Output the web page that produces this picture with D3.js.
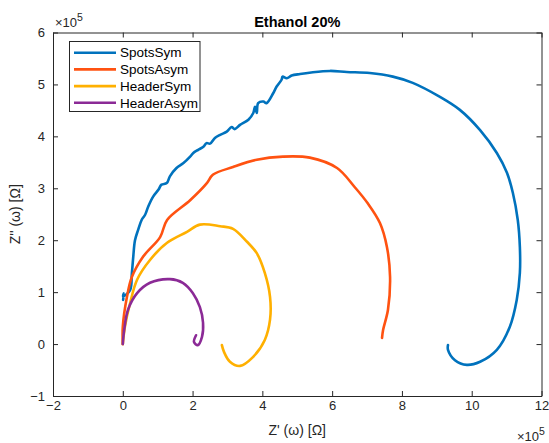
<!DOCTYPE html>
<html><head><meta charset="utf-8">
<script src="https://cdn.jsdelivr.net/npm/d3@7"></script>
<style>body{margin:0;background:#fff;} text{font-family:"Liberation Sans",Arial,sans-serif;}</style>
</head><body>
<svg id="chart" width="549" height="443"></svg>
<script>
// ---- data (units of 1e5 Ohm) ----
const seriesNames = ["SpotsSym", "SpotsAsym", "HeaderSym", "HeaderAsym"];
const seriesColors = ["#0072BD", "#FF5211", "#FFB000", "#8B2A96"];
const xTicks = [-2, 0, 2, 4, 6, 8, 10, 12];
const yTicks = [-1, 0, 1, 2, 3, 4, 5, 6];

const spotsSym = [
  [0.01,0.85],[0.03,0.98],[0.01,0.92],[0.21,1.04],[0.26,1.36],[0.30,1.68],[0.35,2.00],[0.44,2.20],
  [0.54,2.39],[0.64,2.49],[0.73,2.65],[0.87,2.84],[1.02,2.97],[1.11,3.07],[1.26,3.10],
  [1.35,3.23],[1.54,3.39],[1.73,3.48],[1.93,3.61],[2.02,3.68],[2.16,3.74],[2.31,3.80],
  [2.40,3.87],[2.50,3.86],[2.64,3.97],[2.79,4.03],[2.98,4.09],[3.12,4.18],[3.21,4.14],
  [3.36,4.22],[3.60,4.32],[3.74,4.45],[3.79,4.57],[3.84,4.45],[3.88,4.64],[4.03,4.67],
  [4.12,4.64],[4.31,4.83],[4.41,4.96],[4.55,5.09],[4.58,5.15],[4.70,5.12],[4.84,5.17],
  [5.08,5.20],[5.40,5.23],[5.94,5.26],[6.42,5.24],[7.08,5.22],[7.74,5.15],[8.31,5.03],
  [9.09,4.76],[9.66,4.51],[10.24,4.12],[10.72,3.68],[11.01,3.30],[11.18,2.91],[11.32,2.39],
  [11.38,1.87],[11.38,1.37],[11.29,0.85],[11.09,0.33],[10.72,-0.11],[10.24,-0.34],
  [9.86,-0.40],[9.52,-0.31],[9.32,-0.11],[9.32,-0.02]
];
const spotsAsym = [
  [0.00,0.00],[0.00,0.33],[0.12,0.91],[0.26,1.29],[0.58,1.68],[1.07,2.06],[1.27,2.39],
  [1.93,2.77],[2.41,3.10],[2.58,3.26],[3.16,3.41],[3.84,3.55],[4.59,3.61],[5.36,3.59],
  [6.14,3.39],[6.65,3.02],[7.02,2.71],[7.37,2.33],[7.57,1.87],[7.66,1.29],[7.60,0.66],
  [7.46,0.27],[7.43,0.12]
];
const headerSym = [
  [0.00,0.00],[0.06,0.33],[0.21,0.79],[0.41,1.24],[0.78,1.62],[1.27,1.95],[1.84,2.16],
  [2.21,2.30],[2.79,2.27],[3.16,2.22],[3.56,1.97],[3.84,1.75],[4.07,1.37],[4.22,0.91],
  [4.22,0.47],[4.07,0.08],[3.73,-0.25],[3.36,-0.42],[3.07,-0.34],[2.90,-0.15],[2.84,-0.02]
];
const headerAsym = [
  [0.00,0.00],[0.04,0.27],[0.15,0.66],[0.41,0.98],[0.78,1.18],[1.35,1.25],[1.72,1.18],
  [2.01,0.98],[2.21,0.71],[2.30,0.41],[2.27,0.14],[2.15,-0.02],[2.04,0.04],[2.10,0.17]
];
const allSeries = [spotsSym, spotsAsym, headerSym, headerAsym];

// ---- layout ----
const svg = d3.select("#chart");
const L = 53, R = 541.5, T = 32.5, B = 396;
const x = d3.scaleLinear().domain([-2, 12]).range([L, R]);
const y = d3.scaleLinear().domain([-1, 6]).range([B, T]);
const axisColor = "#262626";
const fs = 13;

// data lines
const line = d3.line().x(d => x(d[0])).y(d => y(d[1])).curve(d3.curveCatmullRom.alpha(0.5));
const plot = svg.append("g");
allSeries.forEach((s, i) => {
  plot.append("path").datum(s).attr("d", line)
    .attr("fill", "none").attr("stroke", seriesColors[i])
    .attr("stroke-width", 2.6).attr("stroke-linejoin", "round").attr("stroke-linecap", "round");
});

function styleAxis(g) {
  g.selectAll("path").attr("stroke", axisColor).attr("stroke-width", 1);
  g.selectAll("line").attr("stroke", axisColor).attr("stroke-width", 1);
  g.selectAll("text").attr("fill", axisColor).style("font-size", fs + "px")
    .style("font-family", "'Liberation Sans', Arial, sans-serif");
}
svg.append("g").attr("transform", `translate(0,${B})`)
  .call(d3.axisBottom(x).tickValues(xTicks).tickSizeInner(-5).tickSizeOuter(0).tickPadding(5).tickFormat(d3.format("d")))
  .call(styleAxis);
svg.append("g").attr("transform", `translate(0,${T})`)
  .call(d3.axisTop(x).tickValues(xTicks).tickSizeInner(-5).tickSizeOuter(0).tickFormat(""))
  .call(styleAxis);
svg.append("g").attr("transform", `translate(${L},0)`)
  .call(d3.axisLeft(y).tickValues(yTicks).tickSizeInner(-5).tickSizeOuter(0).tickPadding(8).tickFormat(d3.format("d")))
  .call(styleAxis);
svg.append("g").attr("transform", `translate(${R},0)`)
  .call(d3.axisRight(y).tickValues(yTicks).tickSizeInner(-5).tickSizeOuter(0).tickFormat(""))
  .call(styleAxis);

// title
svg.append("text").attr("x", (L + R) / 2).attr("y", 27).attr("text-anchor", "middle")
  .style("font-size", "14.5px").style("font-weight", "bold").attr("fill", "#000").text("Ethanol 20%");

// exponent labels
function expLabel(px, py) {
  const t = svg.append("text").attr("x", px).attr("y", py).attr("fill", axisColor).style("font-size", fs + "px");
  t.append("tspan").text("×10");
  t.append("tspan").attr("dy", -6).style("font-size", "10.5px").text("5");
}
expLabel(55, 27);
expLabel(517, 441);

// axis labels
svg.append("text").attr("x", (L + R) / 2).attr("y", 435).attr("text-anchor", "middle")
  .attr("fill", axisColor).style("font-size", "14px").text("Z' (ω) [Ω]");
svg.append("text").attr("transform", `translate(20,${(T + B) / 2}) rotate(-90)`).attr("text-anchor", "middle")
  .attr("fill", axisColor).style("font-size", "14px").text("Z'' (ω) [Ω]");

// legend
const lg = svg.append("g");
lg.append("rect").attr("x", 69.5).attr("y", 41.5).attr("width", 130.5).attr("height", 70)
  .attr("fill", "#fff").attr("stroke", axisColor).attr("stroke-width", 1);
seriesNames.forEach((n, i) => {
  const yy = 52.7 + i * 16.7;
  lg.append("line").attr("x1", 74).attr("x2", 116).attr("y1", yy).attr("y2", yy)
    .attr("stroke", seriesColors[i]).attr("stroke-width", 2.6);
  lg.append("text").attr("x", 120).attr("y", yy).attr("dy", "0.35em")
    .attr("fill", "#000").style("font-size", "13.5px").text(n);
});
</script>
</body></html>
